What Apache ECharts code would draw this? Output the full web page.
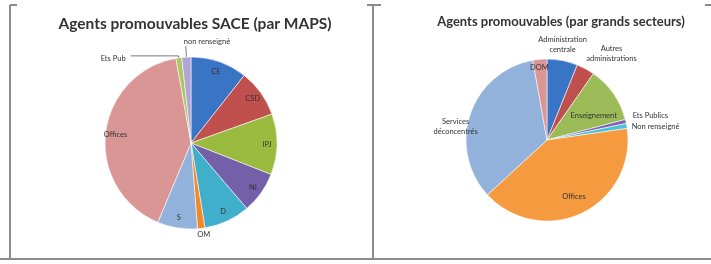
<!DOCTYPE html>
<html>
<head>
<meta charset="utf-8">
<script src="https://cdn.jsdelivr.net/npm/echarts@6/dist/echarts.min.js"></script>
<style>
  html, body { margin: 0; padding: 0; background: #fff; }
  #main { width: 711px; height: 264px; }
</style>
</head>
<body>
<div id="main"></div>
<script>
// camembert gauche : SACE par MAPS (parts estimées en %)
const saceNames = ['CE', 'CSD', 'IPJ', 'NI', 'D', 'OM', 'S', 'Offices', 'Ets Pub', 'non renseigné'];
const saceValues = [10.6, 8.9, 11.4, 7.8, 8.6, 1.4, 7.5, 40.8, 1.1, 1.7];
const saceColors = ['#3a74c4', '#c0504d', '#9bbb3f', '#7460a8', '#40afcc', '#f0892a', '#93b2db', '#d99694', '#a9c864', '#b3a4d6'];

// camembert droit : grands secteurs
const secteurNames = ['Administration\ncentrale', 'Autres\nadministrations', 'Enseignement', 'Ets Publics', 'Non renseigné', 'Offices', 'Services\ndéconcentrés', 'DOM'];
const secteurValues = [6.1, 3.6, 11.2, 0.8, 1.0, 40.4, 34.0, 2.8];
const secteurColors = ['#3a74c4', '#c0504d', '#9bbb59', '#7f63b0', '#4bc0d8', '#f59a3e', '#93b2db', '#d99694'];

// etiquettes placées à l'extérieur, les autres sont dans la part
const saceOutside = ['OM', 'Ets Pub', 'non renseigné'];
const secteurOutside = ['Administration\ncentrale', 'Autres\nadministrations', 'Ets Publics', 'Non renseigné', 'Services\ndéconcentrés'];

const labelFont = { fontSize: 7.5, color: '#333', fontFamily: 'Lato', lineHeight: 10 };

// petits réglages des etiquettes (comme dans excel)
const saceLine = {
    'OM': { show: false, length: 3, length2: 0 },
    'Ets Pub': { show: true, length: 2, length2: 48 },
    'non renseigné': { show: true, length: 11, length2: 0 }
};
const saceShift = {
    'OM': { align: 'center', dx: -3, dy: 3 },
    'Ets Pub': { dy: 3 },
    'non renseigné': { align: 'left', dx: 3, dy: -5 }
};
const secteurShift = {
    'Administration\ncentrale': { align: 'center', dx: -10, dy: -10 },
    'Autres\nadministrations': { align: 'center', dx: 14, dy: -10 },
    'Ets Publics': { dx: -8, dy: -4 },
    'Non renseigné': { dx: -10, dy: 2 },
    'Services\ndéconcentrés': { align: 'center', dx: 0, dy: 14 },
    'Enseignement': { dx: -5, dy: 12 },
    'DOM': { dx: -2, dy: -10 }
};

function mainData(names, values, colors, outside, lines) {
    return names.map(function (n, i) {
        let item = { name: n, value: values[i], itemStyle: { color: colors[i] } };
        if (outside.indexOf(n) >= 0) {
            item.label = { show: true, position: 'outside' };
            if (lines && lines[n]) item.labelLine = lines[n];
        }
        return item;
    });
}

// série transparente superposée : sert seulement à placer les etiquettes internes plus loin du centre
function labelData(names, values, outside) {
    return names.map(function (n, i) {
        return { name: n, value: values[i], label: { show: outside.indexOf(n) < 0 } };
    });
}

function shiftBy(table, names) {
    return function (params) {
        let s = table[names[params.dataIndex]];
        return s ? s : {};
    };
}

let chart = echarts.init(document.getElementById('main'));

const frame = { stroke: '#8c8c8c', lineWidth: 2 };

let option = {
    animation: false,
    title: [
        {
            text: 'Agents promouvables SACE (par MAPS)',
            left: 190, top: 11, textAlign: 'center',
            textStyle: { fontSize: 15.5, fontWeight: 'bold', color: '#333', fontFamily: 'Lato' }
        },
        {
            text: 'Agents promouvables (par grands secteurs)',
            left: 556, top: 10, textAlign: 'center',
            textStyle: { fontSize: 13, fontWeight: 'bold', color: '#333', fontFamily: 'Lato' }
        }
    ],
    graphic: [
        { type: 'line', shape: { x1: 10, y1: 5, x2: 10, y2: 259 }, style: frame },
        { type: 'line', shape: { x1: 10, y1: 5, x2: 17, y2: 5 }, style: frame },
        { type: 'line', shape: { x1: 0, y1: 259, x2: 711, y2: 259 }, style: frame },
        { type: 'line', shape: { x1: 373, y1: 5, x2: 373, y2: 259 }, style: frame },
        { type: 'line', shape: { x1: 367, y1: 5, x2: 381, y2: 5 }, style: frame },
        { type: 'line', shape: { x1: 705, y1: 5, x2: 711, y2: 5 }, style: frame }
    ],
    series: [
        {
            type: 'pie',
            center: [191, 143],
            radius: 86,
            startAngle: 90,
            clockwise: true,
            silent: true,
            avoidLabelOverlap: false,
            itemStyle: { borderColor: 'rgba(255,255,255,0.7)', borderWidth: 0.8 },
            label: Object.assign({ show: false }, labelFont),
            labelLine: { show: true, length: 4, length2: 40, lineStyle: { color: '#555', width: 0.8 } },
            labelLayout: shiftBy(saceShift, saceNames),
            data: mainData(saceNames, saceValues, saceColors, saceOutside, saceLine)
        },
        {
            type: 'pie',
            center: [191, 143],
            radius: 146,
            silent: true,
            itemStyle: { color: 'transparent' },
            label: Object.assign({ position: 'inside' }, labelFont),
            labelLine: { show: false },
            data: labelData(saceNames, saceValues, saceOutside)
        },
        {
            type: 'pie',
            center: [547, 140],
            radius: 81,
            startAngle: 90,
            clockwise: true,
            silent: true,
            avoidLabelOverlap: false,
            itemStyle: { borderColor: 'rgba(255,255,255,0.7)', borderWidth: 0.8 },
            label: Object.assign({ show: false }, labelFont),
            labelLine: { show: false, length: 6, length2: 4, lineStyle: { color: '#555', width: 0.8 } },
            labelLayout: shiftBy(secteurShift, secteurNames),
            data: mainData(secteurNames, secteurValues, secteurColors, secteurOutside)
        },
        {
            type: 'pie',
            center: [547, 140],
            radius: 120,
            silent: true,
            itemStyle: { color: 'transparent' },
            label: Object.assign({ position: 'inside' }, labelFont),
            labelLine: { show: false },
            labelLayout: shiftBy(secteurShift, secteurNames),
            data: labelData(secteurNames, secteurValues, secteurOutside)
        }
    ]
};

chart.setOption(option);
</script>
</body>
</html>
